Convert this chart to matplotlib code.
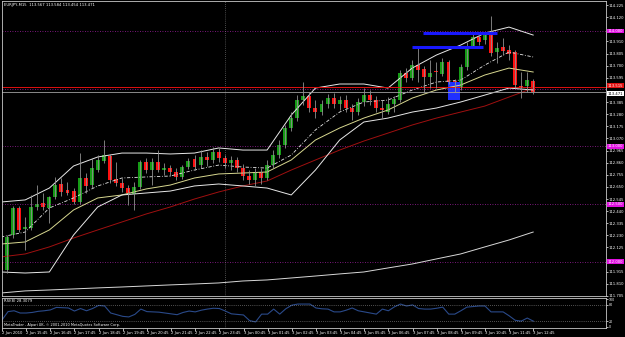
import numpy as np
import matplotlib.pyplot as plt
from matplotlib.transforms import blended_transform_factory

# EURJPY M15 candles, 2 Jun 14:45 .. 3 Jun 12:45
opens = [112.000, 111.930, 112.233, 112.467, 112.285, 112.294, 112.476, 112.510, 112.467, 112.562,
         112.675, 112.623, 112.614, 112.519, 112.727, 112.666, 112.796, 112.874, 112.917, 112.718,
         112.684, 112.640, 112.588, 112.649, 112.865, 112.796, 112.865, 112.796, 112.813, 112.779,
         112.736, 112.822, 112.891, 112.839, 112.909, 112.883, 112.952, 112.900, 112.857, 112.883,
         112.813, 112.744, 112.710, 112.779, 112.727, 112.839, 112.926, 113.013, 113.160, 113.246,
         113.402, 113.437, 113.333, 113.298, 113.368, 113.419, 113.368, 113.402, 113.333, 113.298,
         113.385, 113.445, 113.402, 113.333, 113.298, 113.368, 113.402, 113.636, 113.593, 113.705,
         113.671, 113.601, 113.653, 113.627, 113.731, 113.567, 113.515, 113.688, 113.870, 113.948,
         113.922, 113.965, 113.818, 113.861, 113.835, 113.818, 113.523, 113.523, 113.567]
highs = [112.034, 112.233, 112.485, 112.485, 112.389, 112.580, 112.666, 112.597, 112.571, 112.736,
         112.727, 112.692, 112.640, 112.943, 112.770, 112.900, 112.926, 113.056, 112.935, 112.865,
         112.727, 112.666, 112.692, 112.883, 112.900, 112.900, 112.969, 112.857, 112.839, 112.813,
         112.839, 112.900, 112.926, 112.969, 112.952, 112.995, 112.987, 112.926, 112.917, 112.909,
         112.848, 112.796, 112.813, 112.813, 112.883, 112.969, 113.056, 113.186, 113.298, 113.445,
         113.558, 113.471, 113.402, 113.402, 113.454, 113.463, 113.437, 113.445, 113.368, 113.419,
         113.506, 113.489, 113.437, 113.402, 113.428, 113.437, 113.662, 113.679, 113.748, 113.861,
         113.697, 113.748, 113.731, 113.766, 113.748, 113.584, 113.714, 113.904, 113.974, 113.974,
         113.991, 114.130, 113.904, 113.939, 113.878, 113.835, 113.645, 113.645, 113.584]
lows = [111.896, 111.904, 112.207, 112.259, 112.104, 112.277, 112.450, 112.450, 112.337, 112.545,
        112.571, 112.580, 112.502, 112.502, 112.597, 112.640, 112.779, 112.857, 112.684, 112.658,
        112.606, 112.493, 112.450, 112.632, 112.770, 112.666, 112.779, 112.753, 112.744, 112.710,
        112.718, 112.805, 112.796, 112.813, 112.831, 112.857, 112.865, 112.813, 112.796, 112.779,
        112.710, 112.675, 112.658, 112.675, 112.710, 112.813, 112.900, 112.987, 113.134, 113.220,
        113.359, 113.298, 113.246, 113.272, 113.333, 113.333, 113.316, 113.298, 113.229, 113.272,
        113.350, 113.359, 113.298, 113.246, 113.281, 113.298, 113.385, 113.558, 113.575, 113.558,
        113.463, 113.506, 113.506, 113.610, 113.541, 113.471, 113.489, 113.662, 113.852, 113.878,
        113.887, 113.783, 113.722, 113.792, 113.748, 113.506, 113.419, 113.471, 113.454]
closes = [111.930, 112.216, 112.467, 112.277, 112.303, 112.476, 112.502, 112.476, 112.562, 112.666,
          112.606, 112.597, 112.519, 112.727, 112.658, 112.813, 112.883, 112.926, 112.710, 112.684,
          112.640, 112.597, 112.649, 112.865, 112.796, 112.865, 112.796, 112.813, 112.779, 112.736,
          112.822, 112.874, 112.822, 112.909, 112.883, 112.952, 112.900, 112.857, 112.883, 112.813,
          112.744, 112.710, 112.779, 112.727, 112.839, 112.926, 113.013, 113.160, 113.246, 113.402,
          113.437, 113.333, 113.298, 113.368, 113.419, 113.368, 113.402, 113.333, 113.298, 113.385,
          113.445, 113.402, 113.333, 113.316, 113.368, 113.411, 113.636, 113.593, 113.705, 113.662,
          113.601, 113.636, 113.645, 113.731, 113.558, 113.523, 113.688, 113.861, 113.948, 113.904,
          113.965, 113.809, 113.852, 113.826, 113.800, 113.532, 113.515, 113.575, 113.471]

# indicator readings, one per hour (every 4th bar)
hour_bars = list(range(0, 89, 4))
bb_upper = [112.519, 112.537, 112.640, 112.831, 112.909, 112.943, 112.943, 112.935, 112.943, 112.987,
            112.969, 112.969, 113.272, 113.506, 113.541, 113.541, 113.506, 113.679, 113.792, 113.878,
            113.982, 114.034, 113.965]
bb_middle = [112.216, 112.259, 112.467, 112.554, 112.658, 112.727, 112.736, 112.744, 112.796, 112.839,
             112.822, 112.813, 112.926, 113.143, 113.298, 113.385, 113.402, 113.489, 113.558, 113.575,
             113.705, 113.818, 113.775]
bb_lower = [111.913, 111.904, 111.913, 112.233, 112.476, 112.580, 112.597, 112.614, 112.658, 112.675,
            112.658, 112.640, 112.580, 112.796, 113.056, 113.212, 113.246, 113.298, 113.333, 113.385,
            113.445, 113.506, 113.489]
ma_fast = [112.155, 112.173, 112.277, 112.450, 112.554, 112.580, 112.632, 112.666, 112.727, 112.762,
           112.770, 112.779, 112.883, 113.056, 113.160, 113.246, 113.316, 113.419, 113.489, 113.532,
           113.619, 113.679, 113.645]
ma_mid = [112.043, 112.069, 112.130, 112.207, 112.277, 112.346, 112.415, 112.476, 112.545, 112.606,
          112.658, 112.701, 112.796, 112.883, 112.969, 113.047, 113.116, 113.186, 113.246, 113.298,
          113.350, 113.428, 113.506]
ma_slow = [111.731, 111.749, 111.757, 111.766, 111.775, 111.783, 111.792, 111.801, 111.809, 111.818,
           111.835, 111.844, 111.861, 111.878, 111.896, 111.913, 111.948, 111.982, 112.026, 112.069,
           112.130, 112.190, 112.259]

rsi = [25, 55, 58, 50, 50, 52, 56, 58, 61, 70, 69, 68, 57, 66, 58, 66, 77, 75, 50, 44,
       38, 36, 45, 64, 55, 54, 53, 50, 47, 44, 52, 57, 54, 60, 64, 67, 66, 57, 47, 45,
       43, 23, 18, 46, 46, 64, 46, 65, 78, 82, 82, 82, 68, 65, 64, 54, 54, 60, 68, 58,
       54, 50, 46, 64, 58, 72, 82, 75, 79, 66, 64, 64, 67, 71, 46, 46, 58, 71, 73, 75,
       75, 54, 54, 54, 40, 24, 21, 32, 21]

time_labels = ["2 Jun 2010", "2 Jun 15:45", "2 Jun 16:45", "2 Jun 17:45", "2 Jun 18:45",
               "2 Jun 19:45", "2 Jun 20:45", "2 Jun 21:45", "2 Jun 22:45", "2 Jun 23:45",
               "3 Jun 00:45", "3 Jun 01:45", "3 Jun 02:45", "3 Jun 03:45", "3 Jun 04:45",
               "3 Jun 05:45", "3 Jun 06:45", "3 Jun 07:45", "3 Jun 08:45", "3 Jun 09:45",
               "3 Jun 10:45", "3 Jun 11:45", "3 Jun 12:45"]

# chart objects
hlines = [114.0, 113.5, 113.0, 112.5, 112.0]
hline_labels = ["114.000", None, "113.000", "112.500", "112.000"]
blue_lines = [(69.8, 82.0, 113.982), (68.0, 79.7, 113.861)]
blue_box = (73.9, 75.9, 113.402, 113.558)
day_sep = 37
red_level = 113.515
bid = closes[-1]

fs = 2.7
fig = plt.figure(figsize=(6.25, 3.37), dpi=100, facecolor='black')
ax = fig.add_axes([0.0032, 0.1217, 0.966, 0.875], facecolor='black')
ax2 = fig.add_axes([0.0032, 0.0267, 0.966, 0.089], facecolor='black')

n = len(closes)
x = np.arange(n)
o = np.array(opens); c = np.array(closes)
up = c >= o

for h in hlines:
    ax.axhline(h, color='#a020a0', lw=0.6, ls=(0, (1, 2)))
ax.axvline(day_sep, color='#909090', lw=0.5, ls=(0, (1, 2)))
ax2.axvline(day_sep, color='#909090', lw=0.5, ls=(0, (1, 2)))

ax.plot(hour_bars, ma_slow, color='#d8d8d8', lw=0.7)
ax.plot(hour_bars, ma_mid, color='#a01010', lw=0.7)
ax.plot(hour_bars, ma_fast, color='#d8d890', lw=0.7)
ax.plot(hour_bars, bb_upper, color='#e8e8e8', lw=0.7)
ax.plot(hour_bars, bb_lower, color='#e8e8e8', lw=0.7)
ax.plot(hour_bars, bb_middle, color='#e8e8e8', lw=0.6, ls=(0, (4, 2, 1, 2)))

ax.axhline(red_level, color='#e01010', lw=0.7)
ax.axhline(bid, color='#a0a0a0', lw=0.6)

ax.vlines(x, lows, highs, color='#909090', lw=0.6)
body = np.maximum(np.abs(c - o), 0.004)
ax.bar(x[up], body[up], bottom=np.minimum(o, c)[up], width=0.65, color='#169b16', lw=0)
ax.bar(x[~up], body[~up], bottom=np.minimum(o, c)[~up], width=0.65, color='#ff1010', lw=0)

for x0, x1, yv in blue_lines:
    ax.plot([x0, x1], [yv, yv], color='#1818ff', lw=2.2, solid_capstyle='butt')
bx0, bx1, by0, by1 = blue_box
ax.fill_between([bx0, bx1], by0, by1, color='#1f2fff', lw=0, zorder=1)

ax.set_xlim(0.17, 100.0)
ax.set_ylim(111.705, 114.259)
ticks = np.round(111.705 + 0.105 * np.arange(25), 3)
# MT4 hides the scale labels that sit under a price tag
ticks = [t for t in ticks if min(abs(t - h) for h in [114.0, 113.49, 112.0]) > 0.03]
ax.yaxis.tick_right()
ax.set_yticks(ticks)
ax.set_yticklabels([f"{t:.3f}" for t in ticks])
ax.tick_params(axis='y', colors='white', labelsize=fs, length=1.5, width=0.5, pad=0.8)
ax.set_xticks([])

tr = blended_transform_factory(ax.transAxes, ax.transData)
for h, lab in zip(hlines, hline_labels):
    if lab:
        ax.text(1.003, h, lab, transform=tr, fontsize=fs, color='white', va='center', ha='left',
                bbox=dict(boxstyle='square,pad=0.12', fc='#e010e0', ec='none'))
ax.text(1.003, red_level + 0.012, f"{red_level:.3f}", transform=tr, fontsize=fs, color='white',
        va='center', ha='left', bbox=dict(boxstyle='square,pad=0.12', fc='#e01010', ec='none'))
ax.text(1.003, bid - 0.014, f"{bid:.3f}", transform=tr, fontsize=fs, color='black', va='center',
        ha='left', bbox=dict(boxstyle='square,pad=0.12', fc='white', ec='none'))

ax.text(0.004, 0.993, f"EURJPY,M15  {opens[-1]:.3f} {highs[-1]:.3f} {lows[-1]:.3f} {closes[-1]:.3f}",
        transform=ax.transAxes, fontsize=fs, color='white', va='top', ha='left')

ax2.plot(x, rsi, color='#2a4a8a', lw=0.8)
for lv in (80, 20):
    ax2.axhline(lv, color='#a0a0a0', lw=0.5, ls=(0, (1, 2)))
ax2.set_xlim(0.17, 100.0)
ax2.set_ylim(-3.6, 103.6)
ax2.yaxis.tick_right()
ax2.set_yticks([100, 80, 20, 0])
ax2.tick_params(axis='y', colors='white', labelsize=fs - 0.4, length=1.5, width=0.5, pad=0.8)
ax2.set_xticks(np.arange(len(time_labels)) * 4)
ax2.set_xticklabels(time_labels, ha='left')
ax2.tick_params(axis='x', colors='white', labelsize=fs, length=2, width=0.5, pad=0.5)
ax2.text(0.004, 0.96, "RSI(8) 28.3079", transform=ax2.transAxes, fontsize=fs, color='white',
         va='top', ha='left')
ax2.text(0.004, 0.02, "MetaTrader - Alpari UK, \u00a9 2001-2010 MetaQuotes Software Corp.",
         transform=ax2.transAxes, fontsize=fs - 0.2, color='white', va='bottom', ha='left')

for a in (ax, ax2):
    for s in a.spines.values():
        s.set_color('#c8c8c8')
        s.set_linewidth(0.6)

fig.savefig('out.png', dpi=100, facecolor='black')
